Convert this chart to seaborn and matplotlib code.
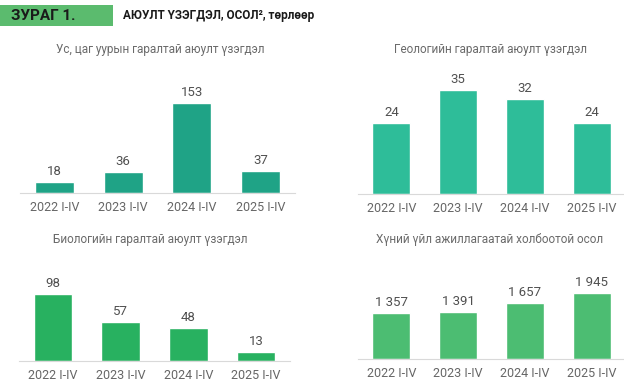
import matplotlib
matplotlib.use("Agg")
import matplotlib.pyplot as plt
import seaborn as sns
from matplotlib.patches import Rectangle

periods = ["2022 I-IV", "2023 I-IV", "2024 I-IV", "2025 I-IV"]

weather = [18, 36, 153, 37]
geology = [24, 35, 32, 24]
biology = [98, 57, 48, 13]
human = [1357, 1391, 1657, 1945]

titles = [
    "Ус, цаг уурын гаралтай аюулт үзэгдэл",
    "Геологийн гаралтай аюулт үзэгдэл",
    "Биологийн гаралтай аюулт үзэгдэл",
    "Хүний үйл ажиллагаатай холбоотой осол",
]

sns.set_style("white")
plt.rcParams["font.family"] = ["Roboto", "DejaVu Sans"]

W, H = 624, 391
fig = plt.figure(figsize=(W / 100, H / 100), dpi=100)


def px_axes(left, bottom_y, width, height):
    # pixel coordinates measured from top-left of the image
    return fig.add_axes([left / W, (H - bottom_y) / H, width / W, height / H])


def fmt_space(v):
    return f"{v:,}".replace(",", " ")


panels = [
    # data, color, (left, baseline, width, height), ymax, title pos
    (weather, "#1fa386", (20, 193, 275, 120), 204, (160, 50)),
    (geology, "#2ebd99", (358, 194, 267, 130), 43.75, (490, 50)),
    (biology, "#28b160", (19, 361, 271, 100), 146, (150, 240)),
    (human, "#4cbd72", (358, 359, 267, 100), 2947, (490, 240)),
]

for i, (vals, col, box, ymax, tpos) in enumerate(panels):
    ax = px_axes(*box)
    sns.barplot(x=periods, y=vals, color=col, saturation=1, width=0.57, ax=ax)
    ax.set_xlim(-0.5, 3.5)
    ax.set_ylim(0, ymax)
    ax.set_yticks([])
    ax.set_ylabel("")
    ax.set_xlabel("")
    for s in ["top", "right", "left"]:
        ax.spines[s].set_visible(False)
    ax.spines["bottom"].set_color("#d9d9d9")
    ax.tick_params(axis="x", length=0, pad=6, labelsize=9, labelcolor="#666666")
    labels = [fmt_space(v) for v in vals]
    ax.bar_label(ax.containers[0], labels=labels, padding=3, fontsize=9.5,
                 color="#505050")
    fig.text(tpos[0] / W, 1 - tpos[1] / H, titles[i], ha="center", va="center",
             fontsize=8.5, color="#6a6a6a")

# header
fig.patches.append(Rectangle((0, 1 - 26 / H), 113 / W, 21 / H, transform=fig.transFigure,
                             facecolor="#5bbb6e", edgecolor="none"))
fig.text(11 / W, 1 - 15.5 / H, "ЗУРАГ 1.", ha="left", va="center", fontsize=11,
         fontweight="bold", color="#1a1a1a")
fig.text(123 / W, 1 - 15.5 / H, "АЮУЛТ ҮЗЭГДЭЛ, ОСОЛ², төрлөөр", ha="left", va="center",
         fontsize=8.5, fontweight="bold", color="#1a1a1a")

fig.savefig("out.png", dpi=100)
